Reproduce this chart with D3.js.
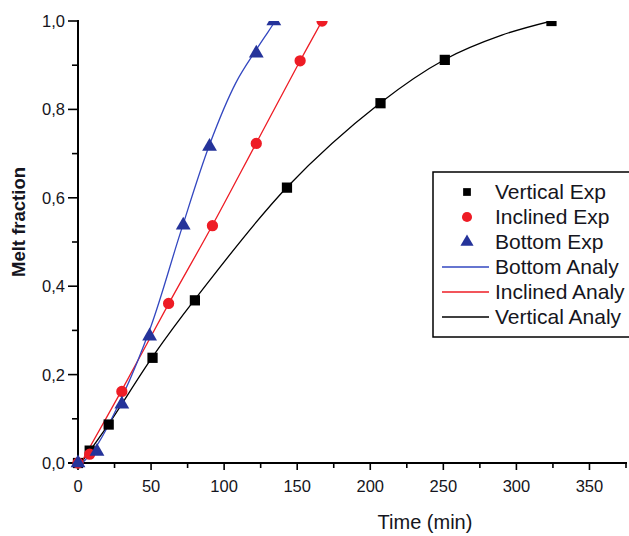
<!DOCTYPE html>
<html><head><meta charset="utf-8">
<script src="https://cdn.jsdelivr.net/npm/d3@7/dist/d3.min.js"></script>
<style>body{margin:0;background:#fff}svg{display:block}text{font-family:"Liberation Sans",Arial,sans-serif}</style>
</head><body><svg id="c" width="629" height="536"></svg>
<script>
// ---- data ----
const verticalExpTime = [0, 8, 21, 51, 80, 143, 207, 251, 324];
const verticalExpFrac = [0, 0.028, 0.087, 0.238, 0.368, 0.623, 0.814, 0.912, 1.0];
const inclinedExpTime = [0, 8, 30, 62, 92, 122, 152, 167];
const inclinedExpFrac = [0, 0.02, 0.162, 0.361, 0.537, 0.723, 0.910, 1.0];
const bottomExpTime = [0, 13, 30, 49, 72, 90, 122, 134];
const bottomExpFrac = [0, 0.026, 0.133, 0.287, 0.538, 0.716, 0.927, 1.0];

const bottomAnalyTime = [3, 13, 30, 50, 70, 90, 108, 122, 130, 135];
const bottomAnalyFrac = [0, 0.04, 0.148, 0.31, 0.52, 0.72, 0.86, 0.935, 0.975, 1.0];
const inclinedAnalyTime = [2, 30, 62, 92, 122, 152, 167];
const inclinedAnalyFrac = [0, 0.165, 0.36, 0.538, 0.724, 0.91, 1.0];
const verticalAnalyTime = [2, 21, 51, 80, 143, 207, 251, 290, 324];
const verticalAnalyFrac = [0, 0.088, 0.24, 0.37, 0.624, 0.815, 0.913, 0.968, 1.0];

const xTicks = [0, 50, 100, 150, 200, 250, 300, 350];
const yTicks = [0, 0.2, 0.4, 0.6, 0.8, 1.0];
const legendLabels = ["Vertical Exp", "Inclined Exp", "Bottom Exp", "Bottom Analy", "Inclined Analy", "Vertical Analy"];

// ---- chart ----
const svg = d3.select("#c");
const x = d3.scaleLinear().domain([0, 375]).range([78, 626]);
const y = d3.scaleLinear().domain([0, 1]).range([463, 21]);
const BLUE = "#25339a", BLUE_L = "#3347c0", RED = "#ee1c25", BLACK = "#000";
const TXT = "#151520";

svg.append("defs").append("clipPath").attr("id", "clip")
  .append("rect").attr("x", 60).attr("y", 21).attr("width", 580).attr("height", 470);

// axes
const xAxis = svg.append("g").attr("transform", "translate(0,463)");
xAxis.append("line").attr("x1", 68).attr("x2", 627).attr("stroke", "#000").attr("stroke-width", 2);
xAxis.selectAll(".mj").data(d3.range(0, 376, 25)).join("line")
  .attr("x1", d => x(d)).attr("x2", d => x(d)).attr("y1", 0).attr("y2", d => d % 50 === 0 ? 7 : 5)
  .attr("stroke", "#000").attr("stroke-width", 1.6);
xAxis.selectAll("text").data(xTicks).join("text")
  .attr("x", d => x(d)).attr("y", 29).attr("text-anchor", "middle")
  .attr("font-size", 16.5).attr("fill", TXT).text(d => d);

const yAxis = svg.append("g").attr("transform", "translate(78,0)");
yAxis.append("line").attr("y1", 20).attr("y2", 464).attr("stroke", "#000").attr("stroke-width", 2);
yAxis.selectAll(".mj").data(d3.range(0, 1.01, 0.1)).join("line")
  .attr("y1", d => y(d)).attr("y2", d => y(d)).attr("x1", 0)
  .attr("x2", d => Math.round(d * 10) % 2 === 0 ? -10 : -6)
  .attr("stroke", "#000").attr("stroke-width", 1.6);
yAxis.selectAll("text").data(yTicks).join("text")
  .attr("x", -13).attr("y", d => y(d) + 6).attr("text-anchor", "end")
  .attr("font-size", 16.5).attr("fill", TXT).text(d => d.toFixed(1).replace(".", ","));

svg.append("text").attr("transform", "translate(25,222) rotate(-90)").attr("text-anchor", "middle")
  .attr("font-size", 18.5).attr("font-weight", "bold").attr("fill", TXT).text("Melt fraction");
svg.append("text").attr("x", 425).attr("y", 529).attr("text-anchor", "middle")
  .attr("font-size", 20).attr("fill", TXT).text("Time (min)");

// lines
const plot = svg.append("g").attr("clip-path", "url(#clip)");
const line = d3.line().x(d => x(d[0])).y(d => y(d[1])).curve(d3.curveCatmullRom.alpha(0.5));
const zip = (a, b) => a.map((v, i) => [v, b[i]]);
plot.append("path").datum(zip(verticalAnalyTime, verticalAnalyFrac)).attr("d", line)
  .attr("fill", "none").attr("stroke", BLACK).attr("stroke-width", 1.3);
plot.append("path").datum(zip(inclinedAnalyTime, inclinedAnalyFrac)).attr("d", line)
  .attr("fill", "none").attr("stroke", RED).attr("stroke-width", 1.3);
plot.append("path").datum(zip(bottomAnalyTime, bottomAnalyFrac)).attr("d", line)
  .attr("fill", "none").attr("stroke", BLUE_L).attr("stroke-width", 1.3);

// markers
const sq = d3.symbol().type(d3.symbolSquare).size(105);
const ci = d3.symbol().type(d3.symbolCircle).size(100);
const tr = d3.symbol().type(d3.symbolTriangle).size(95);
plot.selectAll(".v").data(zip(verticalExpTime, verticalExpFrac)).join("path")
  .attr("d", sq).attr("transform", d => `translate(${x(d[0])},${y(d[1])})`).attr("fill", BLACK);
plot.selectAll(".i").data(zip(inclinedExpTime, inclinedExpFrac)).join("path")
  .attr("d", ci).attr("transform", d => `translate(${x(d[0])},${y(d[1])})`).attr("fill", RED);
plot.selectAll(".b").data(zip(bottomExpTime, bottomExpFrac)).join("path")
  .attr("d", tr).attr("transform", d => `translate(${x(d[0])},${y(d[1])})`).attr("fill", BLUE);

// legend
const lg = svg.append("g");
lg.append("rect").attr("x", 433).attr("y", 172).attr("width", 220).attr("height", 165)
  .attr("fill", "#fff").attr("stroke", "#000").attr("stroke-width", 1.5);
const rowY = i => 192 + i * 25;
const symCol = [BLACK, RED, BLUE];
[0, 1, 2].forEach(i => {
  lg.append("path").attr("d", d3.symbol().type([d3.symbolSquare, d3.symbolCircle, d3.symbolTriangle][i]).size(i === 0 ? 60 : i === 1 ? 80 : 75))
    .attr("transform", `translate(467,${rowY(i)})`).attr("fill", symCol[i]);
});
const lineCol = [BLUE_L, RED, BLACK];
[3, 4, 5].forEach((r, j) => {
  lg.append("line").attr("x1", 442).attr("x2", 489).attr("y1", rowY(r)).attr("y2", rowY(r))
    .attr("stroke", lineCol[j]).attr("stroke-width", 1.6);
});
lg.selectAll("text").data(legendLabels).join("text")
  .attr("x", 495).attr("y", (d, i) => rowY(i) + 7).attr("font-size", 21).attr("fill", TXT).text(d => d);
</script>
</body></html>
